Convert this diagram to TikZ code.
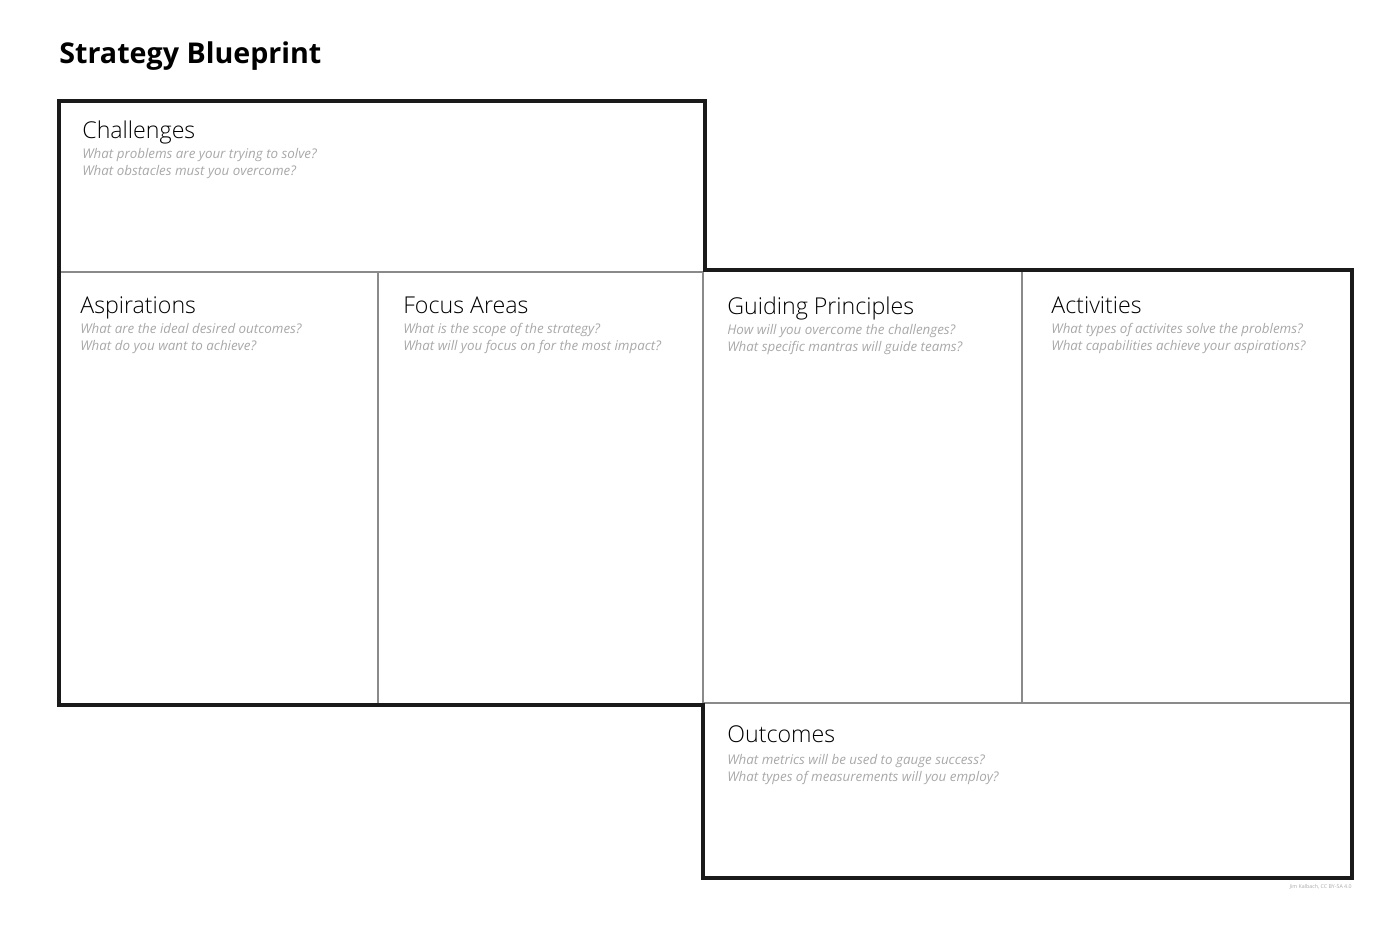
\documentclass[tikz,border=0pt]{standalone}
\usepackage{fontspec}
\setmainfont{Open Sans}
\newfontfamily\lightfont{Open Sans Light}
\usepackage{xcolor}
\usetikzlibrary{positioning}

\definecolor{edgegray}{HTML}{1A1A1A}
\definecolor{rulegray}{HTML}{8A8A8A}
\definecolor{hintgray}{HTML}{A8A8A8}

\begin{document}
\begin{tikzpicture}[x=0.02cm, y=-0.02cm,
    outline/.style={draw=edgegray, line width=2.2pt, line join=miter},
    divider/.style={draw=rulegray, line width=0.6pt},
    heading/.style={anchor=base west, inner sep=0pt, font=\fontsize{13.2}{15}\selectfont\lightfont},
    hint/.style={anchor=base west, inner sep=0pt, align=left, text=hintgray,
        font=\fontsize{7.6}{9.65}\selectfont\itshape},
    title/.style={anchor=base west, inner sep=0pt, font=\fontsize{16.3}{20}\selectfont\bfseries}]
    \useasboundingbox (0,0) rectangle (1400,933);

    % corners of the canvas
    \coordinate (tl) at (59,101);
    \coordinate (tm) at (705,101);
    \coordinate (mm) at (705,270);
    \coordinate (mr) at (1352,270);
    \coordinate (br) at (1352,878);
    \coordinate (bm) at (703,878);
    \coordinate (lm) at (703,705);
    \coordinate (bl) at (59,705);

    \node[title] (title) at (59,63) {Strategy Blueprint};

    % inner rules
    \draw[divider] (59,272) -- (703,272);
    \draw[divider] (378,272) -- (378,705);
    \draw[divider] (703,272) -- (703,705);
    \draw[divider] (1022,270) -- (1022,703);
    \draw[divider] (703,703) -- (1352,703);

    % thick outline
    \draw[outline] (tl) -- (tm) -- (mm) -- (mr) -- (br) -- (bm) -- (lm) -- (bl) -- cycle;

    % cells (hint nodes sit on the baseline of their last line)
    \node[heading] (chal) at (82,138) {Challenges};
    \node[hint] (chalq) at (82,175) {What problems are your trying to solve?\\What obstacles must you overcome?};

    \node[heading] (aspi) at (80,313) {Aspirations};
    \node[hint] (aspiq) at (80,350) {What are the ideal desired outcomes?\\What do you want to achieve?};

    \node[heading] (focus) at (403,313) {Focus Areas};
    \node[hint] (focusq) at (403,350) {What is the scope of the strategy?\\What will you focus on for the most impact?};

    \node[heading] (guide) at (727,314) {Guiding Principles};
    \node[hint] (guideq) at (727,351) {How will you overcome the challenges?\\What specific mantras will guide teams?};

    \node[heading] (activ) at (1051,313) {Activities};
    \node[hint] (activq) at (1051,350) {What types of activites solve the problems?\\What capabilities achieve your aspirations?};

    \node[heading] (outc) at (727,742) {Outcomes};
    \node[hint] (outcq) at (727,781) {What metrics will be used to gauge success?\\What types of measurements will you employ?};

    \node[anchor=north east, inner sep=0pt, text=hintgray, font=\fontsize{3}{3.5}\selectfont] (credit) at (1352,884) {Jim Kalbach, CC BY-SA 4.0};
\end{tikzpicture}
\end{document}
